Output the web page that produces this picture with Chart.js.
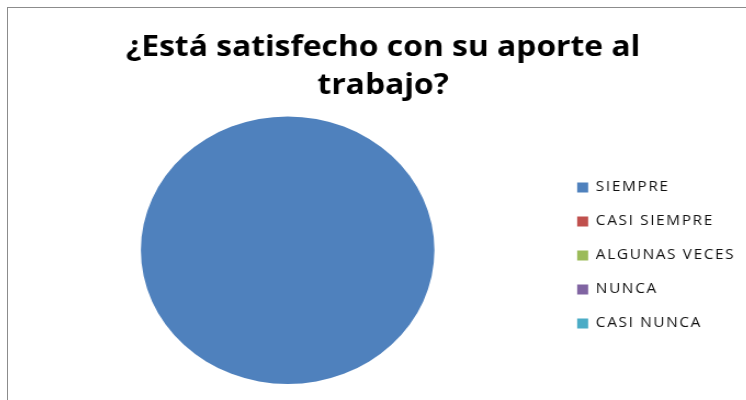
<!DOCTYPE html>
<html>
<head>
<meta charset="utf-8">
<script src="https://cdn.jsdelivr.net/npm/chart.js@4.4.0/dist/chart.umd.min.js"></script>
<style>
  html, body { margin: 0; padding: 0; background: #fff; overflow: hidden; }
  #marco {
    position: absolute; left: 7px; top: 7px; width: 739px; height: 393px;
    border-left: 1px solid #8c8c8c; border-top: 1px solid #8c8c8c;
  }
  /* the original image is stretched sideways a little */
  #caja {
    position: absolute; left: 8px; top: 8px; width: 673px; height: 392px;
    transform: scaleX(1.097); transform-origin: 0 0;
  }
</style>
</head>
<body>
<div id="marco"></div>
<div id="caja"><canvas id="myChart1"></canvas></div>
<script>
/*--datos--*/
var categorias = ["SIEMPRE", "CASI SIEMPRE", "ALGUNAS VECES", "NUNCA", "CASI NUNCA"];
var respuestas = [100, 0, 0, 0, 0];
var colores = ["#4F81BD", "#C0504D", "#9BBB59", "#8064A2", "#4BACC6"];

// wider letters in the legend, like the original
var espaciado = {
  id: 'espaciado',
  afterInit: function(chart) {
    var leyenda = chart.legend;
    ['fit', 'draw'].forEach(function(m) {
      var orig = leyenda[m];
      leyenda[m] = function() {
        chart.ctx.letterSpacing = '1.5px';
        orig.apply(this, arguments);
        chart.ctx.letterSpacing = '0px';
      };
    });
  }
};

var ctx = document.getElementById("myChart1").getContext('2d');
var myChart1 = new Chart(ctx, {
  type: 'pie',
  plugins: [espaciado],
  data: {
    labels: categorias,
    datasets: [{
      data: respuestas,
      backgroundColor: colores,
      borderWidth: 0
    }]
  },
  options: {
    responsive: true,
    maintainAspectRatio: false,
    animation: false,
    layout: { padding: { left: 11, right: 0, top: 0, bottom: 16 } },
    plugins: {
      title: {
        display: true,
        text: ["¿Está satisfecho con su aporte al", "trabajo?"],
        color: '#000',
        font: { family: 'Open Sans', size: 29, weight: 'bold', lineHeight: 1.3 },
        padding: { top: 21, bottom: 12 }
      },
      legend: {
        position: 'right',
        fullSize: false,
        // empty title only nudges the list down a little
        title: { display: true, text: '', font: { size: 2 }, padding: 4 },
        labels: {
          color: '#111',
          font: { family: 'Open Sans', size: 14 },
          boxWidth: 10,
          boxHeight: 10,
          padding: 20
        }
      },
      tooltip: { enabled: false }
    }
  }
});
</script>
</body>
</html>
